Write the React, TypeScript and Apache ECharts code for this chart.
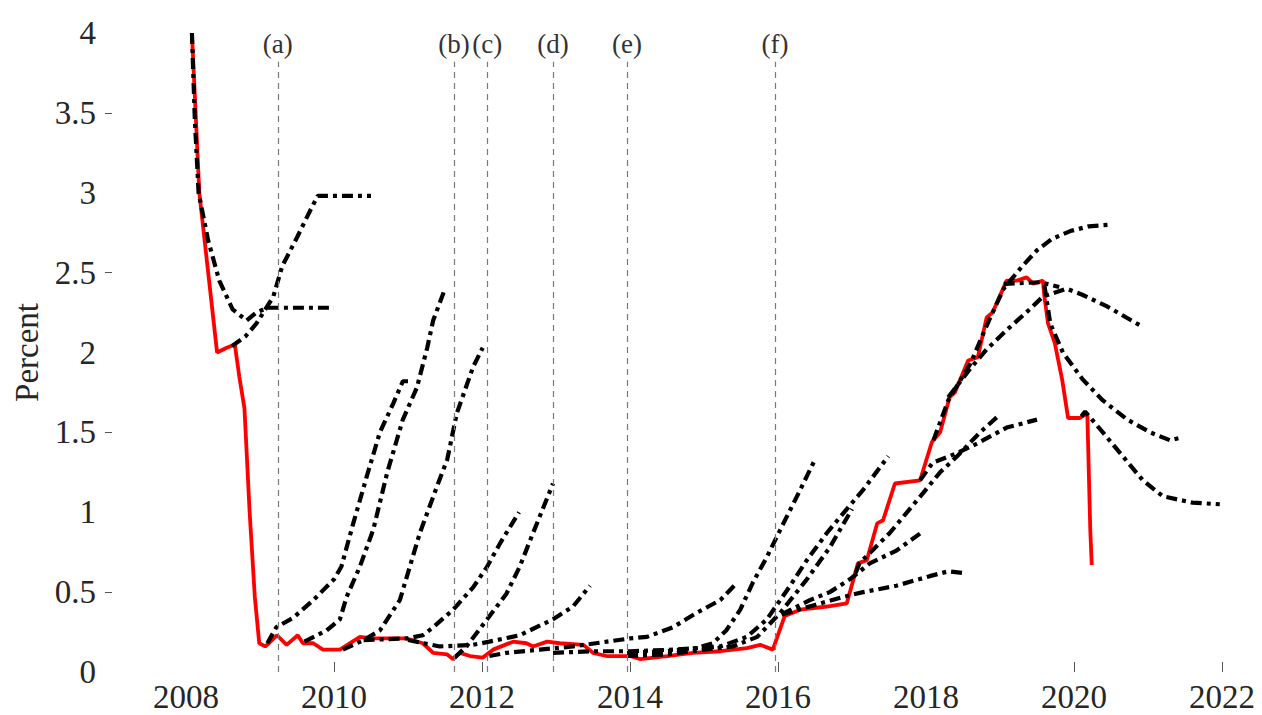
import React, { useEffect, useRef } from "react";
import * as echarts from "echarts";

// Tick labels
const xTickYears = [2008, 2010, 2012, 2014, 2016, 2018, 2020, 2022];
const xTickMarks = [2010, 2012, 2014, 2016, 2020, 2022];
const yTickLabels = [0, 0.5, 1, 1.5, 2, 2.5, 3, 3.5, 4];
const yTickMarks = [0.5, 1.5, 2.5, 3.5];

// Vertical reference dates
const refYears = [2009.24, 2011.62, 2012.07, 2012.96, 2013.96, 2015.96];
const refNames = ["(a)", "(b)", "(c)", "(d)", "(e)", "(f)"];

// Actual rate (red)
const actualRate: number[][] = [
  [2008.08, 4.0], [2008.18, 3.0], [2008.42, 2.0], [2008.55, 2.03], [2008.66, 2.05],
  [2008.72, 1.85], [2008.79, 1.65], [2008.86, 1.0], [2008.93, 0.47], [2008.99, 0.18],
  [2009.07, 0.16], [2009.12, 0.18], [2009.23, 0.23], [2009.36, 0.17], [2009.51, 0.23],
  [2009.58, 0.18], [2009.72, 0.18], [2009.85, 0.14], [2010.08, 0.14], [2010.35, 0.22],
  [2010.53, 0.21], [2010.98, 0.21], [2011.2, 0.18], [2011.34, 0.12], [2011.53, 0.11],
  [2011.61, 0.08], [2011.7, 0.12], [2011.84, 0.1], [2012.01, 0.09], [2012.15, 0.14],
  [2012.42, 0.19], [2012.6, 0.18], [2012.69, 0.16], [2012.88, 0.19], [2013.05, 0.18],
  [2013.37, 0.17], [2013.5, 0.12], [2013.68, 0.1], [2014.0, 0.1], [2014.14, 0.08],
  [2014.5, 0.1], [2014.85, 0.12], [2015.22, 0.13], [2015.58, 0.15], [2015.76, 0.17],
  [2015.93, 0.14], [2016.09, 0.35], [2016.3, 0.39], [2016.66, 0.41], [2016.93, 0.43],
  [2017.08, 0.68], [2017.2, 0.7], [2017.34, 0.93], [2017.42, 0.95], [2017.58, 1.18],
  [2017.92, 1.2], [2018.08, 1.44], [2018.19, 1.5], [2018.32, 1.72], [2018.39, 1.75],
  [2018.57, 1.95], [2018.7, 1.97], [2018.82, 2.22], [2018.9, 2.25], [2019.09, 2.45],
  [2019.23, 2.45], [2019.36, 2.47], [2019.45, 2.43], [2019.58, 2.45], [2019.6, 2.35],
  [2019.65, 2.18], [2019.74, 2.06], [2019.84, 1.83], [2019.92, 1.59], [2020.08, 1.59],
  [2020.18, 1.62], [2020.22, 0.89], [2020.24, 0.67],
];

// Forecast paths (black dash-dot)
const fc2008a = [[2008.08, 4.0], [2008.12, 3.45], [2008.17, 3.0], [2008.3, 2.7], [2008.45, 2.45], [2008.63, 2.27], [2008.82, 2.2], [2008.95, 2.25], [2009.1, 2.28], [2009.3, 2.28], [2010.0, 2.28]];
const fc2008b = [[2008.62, 2.04], [2008.8, 2.1], [2008.95, 2.18], [2009.18, 2.35], [2009.3, 2.54], [2009.5, 2.72], [2009.68, 2.89], [2009.78, 2.98], [2010.5, 2.98]];
const fc2009a = [[2009.1, 0.18], [2009.22, 0.28], [2009.45, 0.34], [2009.72, 0.45], [2010.0, 0.58], [2010.1, 0.66], [2010.26, 0.93], [2010.44, 1.22], [2010.62, 1.5], [2010.8, 1.68], [2010.93, 1.82], [2011.0, 1.82]];
const fc2009b = [[2009.6, 0.19], [2009.9, 0.26], [2010.08, 0.33], [2010.17, 0.47], [2010.35, 0.66], [2010.53, 0.89], [2010.72, 1.25], [2010.93, 1.58], [2011.12, 1.78], [2011.26, 2.03], [2011.34, 2.2], [2011.5, 2.4]];
const fc2010a = [[2010.12, 0.14], [2010.4, 0.2], [2010.62, 0.26], [2010.89, 0.45], [2011.16, 0.87], [2011.39, 1.16], [2011.53, 1.33], [2011.66, 1.62], [2011.88, 1.91], [2012.01, 2.03]];
const fc2010b = [[2010.4, 0.2], [2010.98, 0.21], [2011.2, 0.23], [2011.34, 0.28], [2011.61, 0.39], [2011.88, 0.53], [2012.07, 0.66], [2012.25, 0.81], [2012.5, 1.0]];
const fc2011a = [[2011.63, 0.09], [2011.79, 0.16], [2012.07, 0.33], [2012.33, 0.49], [2012.51, 0.66], [2012.69, 0.87], [2012.96, 1.18]];
const fc2011b = [[2011.0, 0.2], [2011.43, 0.16], [2011.88, 0.17], [2012.1, 0.19], [2012.51, 0.23], [2012.96, 0.33], [2013.23, 0.41], [2013.46, 0.54]];
const fc2012 = [[2012.1, 0.1], [2012.33, 0.12], [2012.78, 0.14], [2013.23, 0.16], [2013.69, 0.19], [2014.0, 0.21], [2014.23, 0.22], [2014.58, 0.28], [2014.9, 0.37], [2015.22, 0.45], [2015.45, 0.56]];
const fc2013 = [[2012.96, 0.12], [2013.5, 0.13], [2014.0, 0.13], [2014.6, 0.14], [2015.22, 0.16], [2015.58, 0.22], [2015.85, 0.33], [2016.12, 0.51], [2016.39, 0.7], [2016.66, 0.87], [2016.93, 1.02], [2017.15, 1.14], [2017.49, 1.35]];
const fc2014a = [[2013.96, 0.1], [2014.5, 0.11], [2015.0, 0.14], [2015.39, 0.16], [2015.72, 0.22], [2016.03, 0.37], [2016.39, 0.58], [2016.7, 0.78], [2017.0, 1.02]];
const fc2014b = [[2013.96, 0.12], [2014.5, 0.13], [2014.9, 0.15], [2015.12, 0.18], [2015.3, 0.26], [2015.49, 0.39], [2015.66, 0.56], [2015.85, 0.72], [2016.03, 0.89], [2016.3, 1.14], [2016.5, 1.33]];
const fc2016a = [[2016.05, 0.36], [2016.5, 0.42], [2016.88, 0.47], [2017.15, 0.5], [2017.6, 0.54], [2018.05, 0.6], [2018.3, 0.63], [2018.49, 0.62]];
const fc2016b = [[2016.05, 0.36], [2016.43, 0.45], [2016.7, 0.5], [2016.97, 0.58], [2017.24, 0.68], [2017.6, 0.76], [2017.96, 0.88]];
const fc2017a = [[2017.05, 0.62], [2017.1, 0.68], [2017.51, 0.87], [2017.96, 1.12], [2018.19, 1.25], [2018.42, 1.35], [2018.73, 1.5], [2018.97, 1.6]];
const fc2017b = [[2017.92, 1.2], [2018.09, 1.31], [2018.42, 1.37], [2018.69, 1.43], [2019.09, 1.53], [2019.5, 1.58]];
const fc2018a = [[2018.1, 1.45], [2018.3, 1.7], [2018.6, 1.93], [2018.85, 2.2], [2019.05, 2.4], [2019.3, 2.54], [2019.5, 2.64], [2019.7, 2.71], [2019.95, 2.76], [2020.2, 2.79], [2020.49, 2.8]];
const fc2018b = [[2018.3, 1.72], [2018.6, 1.9], [2018.82, 2.02], [2019.09, 2.14], [2019.4, 2.27], [2019.58, 2.35], [2019.9, 2.4], [2020.12, 2.36], [2020.44, 2.29], [2020.93, 2.16]];
const fc2019a = [[2019.05, 2.43], [2019.55, 2.44], [2019.8, 2.41]];
const fc2019b = [[2019.6, 2.42], [2019.63, 2.33], [2019.68, 2.18], [2019.85, 2.0], [2020.12, 1.83], [2020.39, 1.7], [2020.72, 1.58], [2021.03, 1.5], [2021.3, 1.45], [2021.47, 1.47]];
const fc2020 = [[2020.1, 1.6], [2020.15, 1.63], [2020.39, 1.5], [2020.66, 1.35], [2020.93, 1.2], [2021.2, 1.1], [2021.6, 1.06], [2021.97, 1.05]];

const forecasts = [
  fc2008a, fc2008b, fc2009a, fc2009b, fc2010a, fc2010b, fc2011a, fc2011b, fc2012,
  fc2013, fc2014a, fc2014b, fc2016a, fc2016b, fc2017a, fc2017b, fc2018a, fc2018b,
  fc2019a, fc2019b, fc2020,
];

const FONT = "'Liberation Serif', 'Times New Roman', serif";

export default function App() {
  const ref = useRef<HTMLDivElement>(null);
  useEffect(() => {
    document.body.style.margin = "0";
    const chart = echarts.init(ref.current!, null, { renderer: "svg" });
    const series: any[] = [
      {
        type: "line",
        data: actualRate,
        showSymbol: false,
        symbol: "none",
        lineStyle: { color: "#ff0000", width: 3.8 },
        z: 2,
        markLine: {
          silent: true,
          symbol: "none",
          lineStyle: { color: "#7a7a7a", width: 1.2, type: [6, 5] },
          label: {
            show: true,
            position: "end",
            distance: 4,
            formatter: (p: any) => p.name,
            fontFamily: FONT,
            fontSize: 27,
            color: "#333",
          },
          data: refYears.map((x, i) => [
            { name: refNames[i], coord: [x, 0] },
            { coord: [x, 3.82] },
          ]),
        },
      },
      ...forecasts.map((d) => ({
        type: "line",
        data: d,
        showSymbol: false,
        symbol: "none",
        z: 3,
        lineStyle: { color: "#000", width: 4.2, type: [11, 5, 4, 5] },
      })),
    ];
    chart.setOption({
      animation: false,
      backgroundColor: "#fff",
      grid: { left: 112, right: 40, top: 33, bottom: 43, containLabel: false },
      xAxis: {
        type: "value",
        min: 2007,
        max: 2022,
        axisLine: { show: false },
        splitLine: { show: false },
        axisTick: {
          show: true,
          inside: true,
          length: 10,
          customValues: xTickMarks,
          lineStyle: { color: "#555", width: 1 },
        },
        axisLabel: {
          customValues: xTickYears,
          fontFamily: FONT,
          fontSize: 33,
          color: "#262626",
          margin: 8,
          formatter: (v: number) => String(v),
        },
      },
      yAxis: {
        type: "value",
        min: 0,
        max: 4,
        name: "Percent",
        nameLocation: "middle",
        nameGap: 68,
        nameTextStyle: { fontFamily: FONT, fontSize: 33, color: "#262626" },
        axisLine: { show: false },
        splitLine: { show: false },
        axisTick: {
          show: true,
          inside: false,
          length: 7,
          customValues: yTickMarks,
          lineStyle: { color: "#555", width: 1 },
        },
        axisLabel: {
          customValues: yTickLabels,
          fontFamily: FONT,
          fontSize: 33,
          color: "#262626",
          margin: 16,
          formatter: (v: number) => String(v),
        },
      },
      series,
    });
    return () => chart.dispose();
  }, []);
  return <div ref={ref} style={{ width: 1262, height: 715 }} />;
}
